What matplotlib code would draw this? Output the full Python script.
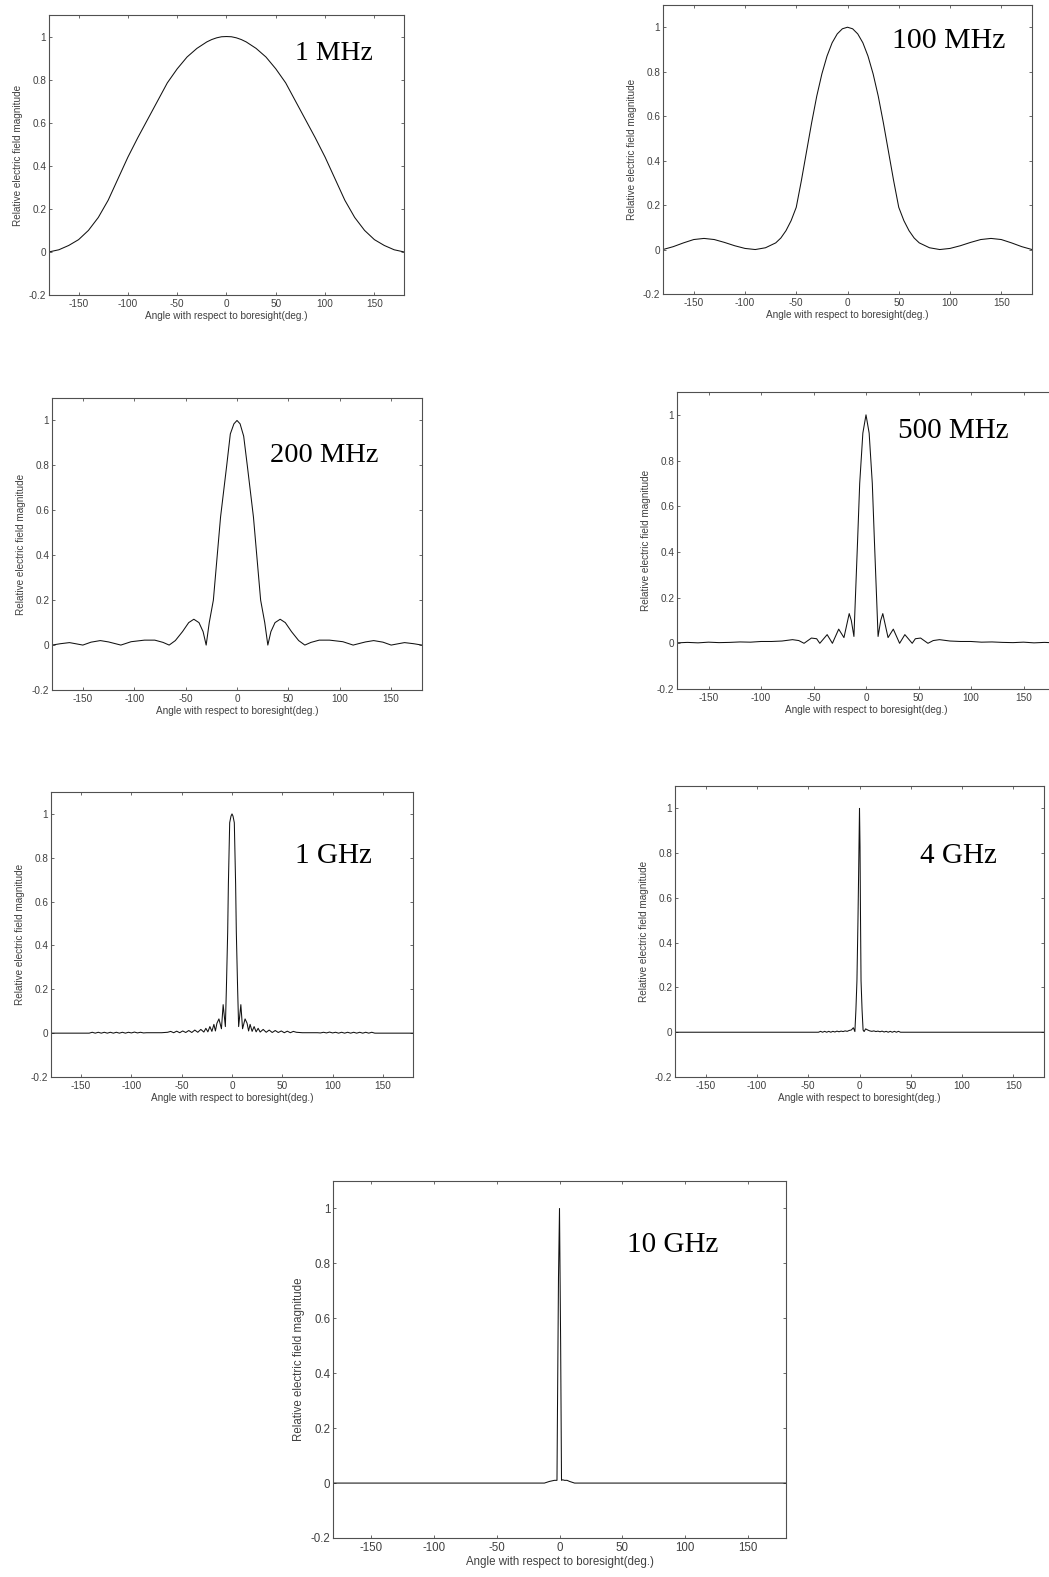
import matplotlib
matplotlib.use("Agg")
import matplotlib.pyplot as plt

plt.rcParams['font.family'] = ['Liberation Sans', 'DejaVu Sans']
plt.rcParams['axes.unicode_minus'] = False

W, H = 1049, 1577

# ---- data (angle in deg., relative |E|) ----
ang_1mhz = [-180, -170, -160, -150, -140, -130, -120, -110, -100, -90, -80, -70, -60, -50, -40, -30, -20, -15, -10,
            -5, 0, 5, 10, 15, 20, 30, 40, 50, 60, 70, 80, 90, 100, 110, 120, 130, 140, 150, 160, 170, 180]
val_1mhz = [0.0, 0.01, 0.03, 0.057, 0.10, 0.16, 0.24, 0.34, 0.44, 0.53, 0.615, 0.70, 0.785, 0.85, 0.905, 0.945,
            0.975, 0.986, 0.994, 0.999, 1.0, 0.999, 0.994, 0.986, 0.975, 0.945, 0.905, 0.85, 0.785, 0.70, 0.615,
            0.53, 0.44, 0.34, 0.24, 0.16, 0.10, 0.057, 0.03, 0.01, 0.0]

ang_100mhz = [-180, -170, -160, -150, -140, -130, -120, -110, -100, -90, -80, -70, -65, -60, -55, -50, -45, -40, -35,
              -30, -25, -20, -15, -10, -5, 0, 5, 10, 15, 20, 25, 30, 35, 40, 45, 50, 55, 60, 65, 70, 80, 90, 100, 110,
              120, 130, 140, 150, 160, 170, 180]
val_100mhz = [0.0, 0.013, 0.03, 0.045, 0.05, 0.045, 0.032, 0.017, 0.005, 0.0, 0.008, 0.03, 0.052, 0.085, 0.13, 0.19,
              0.31, 0.44, 0.57, 0.69, 0.79, 0.87, 0.93, 0.97, 0.993, 1.0, 0.993, 0.97, 0.93, 0.87, 0.79, 0.69, 0.57,
              0.44, 0.31, 0.19, 0.13, 0.085, 0.052, 0.03, 0.008, 0.0, 0.005, 0.017, 0.032, 0.045, 0.05, 0.045, 0.03,
              0.013, 0.0]

ang_200mhz = [-180, -172, -163, -157, -150, -142, -133, -125, -113, -103, -90, -80, -72, -66, -60, -53, -47, -42, -37,
              -33, -30, -27, -23, -16, -10, -6.5, -3, 0, 3, 6.5, 10, 16, 23, 27, 30, 33, 37, 42, 47, 53, 60, 66, 72,
              80, 90, 103, 113, 125, 133, 142, 150, 157, 163, 172, 180]
val_200mhz = [0.0, 0.006, 0.011, 0.006, 0.0, 0.013, 0.02, 0.014, 0.0, 0.015, 0.022, 0.022, 0.012, 0.0, 0.02, 0.06,
              0.1, 0.115, 0.1, 0.06, 0.0, 0.1, 0.2, 0.57, 0.8, 0.94, 0.985, 1.0, 0.985, 0.93, 0.8, 0.57, 0.2, 0.1, 0.0,
              0.06, 0.1, 0.115, 0.1, 0.06, 0.02, 0.0, 0.012, 0.022, 0.022, 0.015, 0.0, 0.014, 0.02, 0.013, 0.0, 0.006,
              0.011, 0.006, 0.0]

ang_500mhz = [-180, -170, -160, -150, -140, -130, -120, -110, -100, -90, -80, -70, -64, -59, -52, -47, -44, -37, -32,
              -26, -21, -16, -14, -11.5, -8, -6, -3, 0, 3, 6, 8, 11.5, 14, 16, 21, 26, 32, 37, 44, 47, 52, 59, 64, 70,
              80, 90, 100, 110, 120, 130, 140, 150, 160, 170, 180]
val_500mhz = [0.002, 0.004, 0.002, 0.005, 0.003, 0.004, 0.006, 0.005, 0.008, 0.008, 0.01, 0.016, 0.012, 0.0, 0.023,
              0.02, 0.0, 0.038, 0.0, 0.062, 0.025, 0.13, 0.1, 0.03, 0.45, 0.7, 0.92, 1.0, 0.92, 0.7, 0.45, 0.03, 0.1,
              0.13, 0.025, 0.062, 0.0, 0.038, 0.0, 0.02, 0.023, 0.0, 0.012, 0.016, 0.01, 0.008, 0.008, 0.005, 0.006,
              0.004, 0.003, 0.005, 0.002, 0.004, 0.002]

ang_1ghz = [-180, -142, -139, -136, -133, -130, -127, -124, -121, -118, -115, -112, -109, -106, -103, -100, -97, -94,
            -91, -88, -85, -70, -64, -61, -58, -55, -52, -49, -46, -43, -40, -37, -34, -31, -28, -26, -24, -22, -20,
            -18, -16.5, -15, -13, -10.5, -8.8, -6.6, -5.6, -4.3, -3.6, -2.3, -1, 0,
            1, 2.3, 3.6, 4.3, 5.6, 6.6, 8.8, 10.5, 13, 15, 16.5, 18, 20, 22, 24, 26, 28, 31, 34, 37, 40, 43, 46, 49,
            52, 55, 58, 61, 64, 70, 85, 88, 91, 94, 97, 100, 103, 106, 109, 112, 115, 118, 121, 124, 127, 130, 133,
            136, 139, 142, 180]
val_1ghz = [0.0, 0.0, 0.004, 0.0, 0.004, 0.0, 0.004, 0.0, 0.004, 0.0, 0.004, 0.0, 0.004, 0.0, 0.004, 0.001, 0.005,
            0.001, 0.004, 0.001, 0.002, 0.002, 0.004, 0.008, 0.002, 0.009, 0.002, 0.01, 0.003, 0.012, 0.003, 0.014,
            0.004, 0.017, 0.005, 0.022, 0.006, 0.03, 0.008, 0.04, 0.01, 0.045, 0.065, 0.02, 0.13, 0.03, 0.2, 0.46,
            0.68, 0.96, 0.99, 1.0,
            0.99, 0.96, 0.68, 0.46, 0.2, 0.03, 0.13, 0.02, 0.065, 0.045, 0.01, 0.04, 0.008, 0.03, 0.006, 0.022,
            0.005, 0.017, 0.004, 0.014, 0.003, 0.012, 0.003, 0.01, 0.002, 0.009, 0.002, 0.008, 0.004, 0.002, 0.002,
            0.001, 0.004, 0.001, 0.005, 0.001, 0.004, 0.0, 0.004, 0.0, 0.004, 0.0, 0.004, 0.0, 0.004, 0.0, 0.004,
            0.0, 0.004, 0.0, 0.0]

ang_4ghz = [-180, -40, -38, -36, -34, -32, -30, -28, -26, -24, -22, -20, -18, -16, -14, -12, -10, -8, -6, -4.5, -3.5,
            -2.5, -1.5, -1, -0.5, 0, 0.5, 1, 1.5, 2.5, 3.5, 4.5, 6, 8, 10, 12, 14, 16, 18, 20, 22, 24, 26, 28, 30,
            32, 34, 36, 38, 40, 180]
val_4ghz = [0.0, 0.0, 0.004, 0.0, 0.004, 0.0, 0.004, 0.0, 0.004, 0.001, 0.005, 0.002, 0.005, 0.003, 0.006, 0.004,
            0.008, 0.01, 0.02, 0.003, 0.1, 0.23, 0.5, 0.66, 0.83, 1.0, 0.83, 0.5, 0.23, 0.1, 0.01, 0.003, 0.015, 0.01,
            0.006, 0.004, 0.006, 0.003, 0.005, 0.002, 0.005, 0.001, 0.004, 0.0, 0.004, 0.0, 0.004, 0.0, 0.004, 0.0,
            0.0]

ang_10ghz = [-180, -12, -10, -8, -6, -4, -2, -1.6, -0.8, 0, 0.9, 1.6, 2.5, 4, 6, 8, 10, 12, 180]
val_10ghz = [0.0, 0.0, 0.003, 0.006, 0.008, 0.01, 0.01, 0.27, 0.75, 1.0, 0.51, 0.01, 0.012, 0.01, 0.01, 0.006,
             0.003, 0.0, 0.0]

labels = ['1 MHz', '100 MHz', '200 MHz', '500 MHz', '1 GHz', '4 GHz', '10 GHz']
series = [(ang_1mhz, val_1mhz), (ang_100mhz, val_100mhz), (ang_200mhz, val_200mhz), (ang_500mhz, val_500mhz),
          (ang_1ghz, val_1ghz), (ang_4ghz, val_4ghz), (ang_10ghz, val_10ghz)]

# axes boxes in pixels: left, right, top, bottom
boxes = [(49, 404, 15, 295), (663, 1032, 5, 294), (52, 422, 398, 690), (677, 1055, 392, 689),
         (51, 413, 792, 1077), (675, 1044, 786, 1077), (333, 786, 1181, 1538)]
# label text position (left, baseline) in pixels and size
tags = [(295, 60, 20), (892, 48, 21.5), (270, 462, 20.5), (898, 438, 21), (295, 863, 21), (920, 863, 21),
        (627, 1252, 21)]

fig = plt.figure(figsize=(W / 100, H / 100), dpi=100)

for i, ((x, y), box, tag, lab) in enumerate(zip(series, boxes, tags, labels)):
    l, r, t, b = box
    ax = fig.add_axes([l / W, 1 - b / H, (r - l) / W, (b - t) / H])
    ax.plot(x, y, color='#111111', lw=0.75)
    ax.set_xlim(-180, 180)
    ax.set_ylim(-0.2, 1.1)
    ax.set_xticks([-150, -100, -50, 0, 50, 100, 150])
    ax.set_yticks([-0.2, 0, 0.2, 0.4, 0.6, 0.8, 1])
    ax.set_yticklabels(['-0.2', '0', '0.2', '0.4', '0.6', '0.8', '1'])
    fs = 8.3 if i == 6 else 7.2
    ax.tick_params(direction='in', top=True, right=True, length=2.5, width=0.6, colors='#505050',
                   labelcolor='#404040', labelsize=fs, pad=3)
    ax.tick_params(axis='y', pad=2)
    for s in ax.spines.values():
        s.set_color('#505050')
        s.set_linewidth(0.8)
    ax.set_xlabel('Angle with respect to boresight(deg.)', fontsize=fs, color='#404040', labelpad=1)
    ax.set_ylabel('Relative electric field magnitude', fontsize=fs, color='#404040', labelpad=4)
    tx, ty, ts = tag
    fig.text(tx / W, 1 - ty / H, lab, fontsize=ts, family='Liberation Serif', ha='left', va='baseline',
             color='black')

fig.savefig('out.png', dpi=100)
